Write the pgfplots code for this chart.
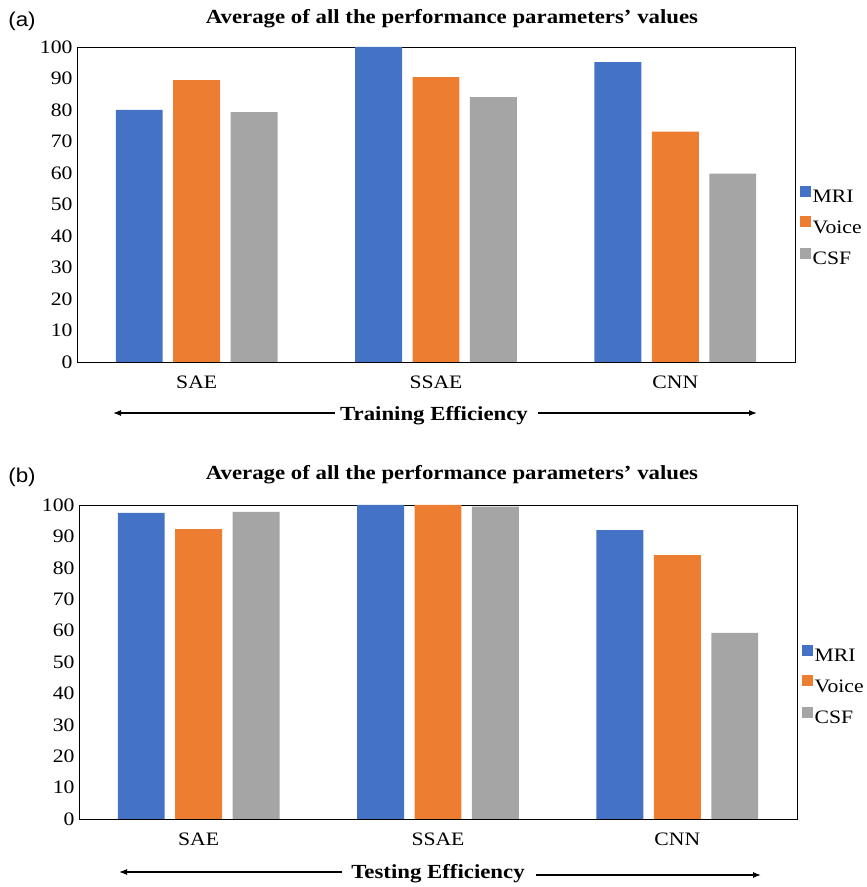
\documentclass[border=0pt]{standalone}
\usepackage{fontspec}
\setmainfont{Liberation Serif}[FakeStretch=1.14]
\newfontfamily\arialfont{Liberation Sans}[FakeStretch=1.12]
\usepackage{pgfplots}
\pgfplotsset{compat=1.18}
\usetikzlibrary{arrows.meta}
\definecolor{cMRI}{HTML}{4472C4}
\definecolor{cVoice}{HTML}{ED7D31}
\definecolor{cCSF}{HTML}{A5A5A5}
\newcommand{\tickfont}{\fontsize{19}{19}\selectfont}
\pgfplotsset{
  panel/.style={
    scale only axis, width=718pt,
    xmin=-0.5, xmax=2.5, ymin=0, ymax=100,
    ytick={0,10,...,100}, xtick={0,1,2}, xticklabels={SAE,SSAE,CNN},
    major tick length=0pt,
    axis line style={black, line width=0.9pt},
    /pgf/number format/assume math mode=true,
    yticklabel style={font=\tickfont, xshift=-1pt},
    xticklabel style={font=\tickfont, yshift=-10pt},
    legend cell align=left,
    legend image code/.code={\fill[##1] (0pt,0.5pt) rectangle (11pt,11.5pt);},
    legend style={draw=none, fill=none, font=\tickfont, anchor=west, xshift=5pt,
      inner sep=0pt, row sep=11pt, nodes={inner sep=1.5pt}},
  },
  bMRI/.style={ybar, bar width=0.196, bar shift=-0.240, fill=cMRI, draw=none},
  bVoice/.style={ybar, bar width=0.196, bar shift=0, fill=cVoice, draw=none},
  bCSF/.style={ybar, bar width=0.196, bar shift=0.240, fill=cCSF, draw=none},
}
\begin{document}
\begin{tikzpicture}
\path[use as bounding box] (0pt,0pt) rectangle (867pt,887pt);
% ---------- panel (a)
\begin{axis}[panel, height=315pt, at={(77pt,525pt)}, anchor=south west,
  legend style={at={(1,0.43)}}]
\addplot[bMRI] coordinates {(0,80.0) (1,100) (2,95.2)};
\addplot[bVoice] coordinates {(0,89.5) (1,90.4) (2,73.1)};
\addplot[bCSF] coordinates {(0,79.3) (1,84.1) (2,59.8)};
\legend{MRI,Voice,CSF}
\end{axis}
\node[inner sep=0pt, font=\arialfont\fontsize{20}{20}\selectfont] at (22pt,866pt) {(a)};
\node[inner sep=0pt, font=\bfseries\fontsize{20}{20}\selectfont] at (452pt,868.5pt) {Average of all the performance parameters’ values};
\node[inner sep=0pt, font=\bfseries\fontsize{20}{20}\selectfont] at (434pt,471pt) {Training Efficiency};
\draw[line width=1.2pt, {Latex[length=8pt,width=6pt]}-] (113pt,474pt) -- (335pt,474pt);
\draw[line width=1.2pt, -{Latex[length=8pt,width=6pt]}] (538pt,474pt) -- (757pt,474pt);
% ---------- panel (b)
\begin{axis}[panel, height=314pt, at={(79pt,68pt)}, anchor=south west,
  legend style={at={(1,0.425)}}]
\addplot[bMRI] coordinates {(0,97.5) (1,100) (2,92.0)};
\addplot[bVoice] coordinates {(0,92.3) (1,100) (2,84.0)};
\addplot[bCSF] coordinates {(0,97.8) (1,99.5) (2,59.3)};
\legend{MRI,Voice,CSF}
\end{axis}
\node[inner sep=0pt, font=\arialfont\fontsize{20}{20}\selectfont] at (22pt,410pt) {(b)};
\node[inner sep=0pt, font=\bfseries\fontsize{20}{20}\selectfont] at (452pt,412pt) {Average of all the performance parameters’ values};
\node[inner sep=0pt, font=\bfseries\fontsize{20}{20}\selectfont] at (438pt,13pt) {Testing Efficiency};
\draw[line width=1.2pt, {Latex[length=8pt,width=6pt]}-] (119pt,15pt) -- (342pt,15pt);
\draw[line width=1.2pt, -{Latex[length=8pt,width=6pt]}] (536pt,12pt) -- (761pt,12pt);
\end{tikzpicture}
\end{document}
